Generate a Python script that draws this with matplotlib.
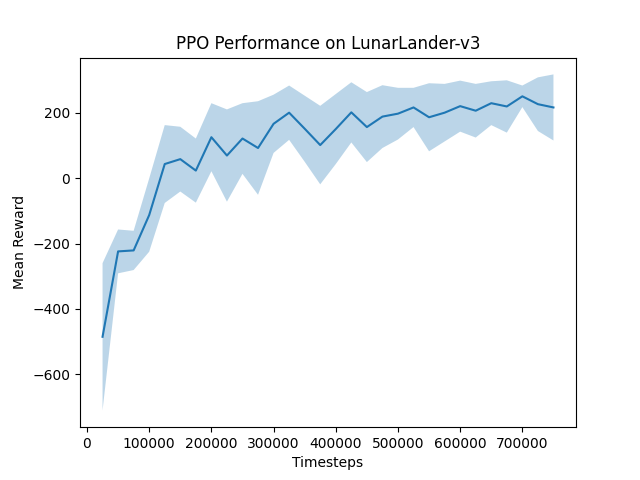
import numpy as np
import matplotlib
matplotlib.use("Agg")
import matplotlib.pyplot as plt

# evaluation checkpoints (every 25k steps)
timesteps = np.arange(25000, 750001, 25000)
mean_reward = [-485, -224, -221, -113, 43, 58, 23, 125, 69, 121,
               92, 166, 200, 151, 101, 150, 201, 156, 188, 197,
               216, 186, 200, 220, 206, 229, 219, 250, 226, 216]
std_reward = [225, 67, 60, 112, 119, 99, 98, 104, 141, 108,
              143, 89, 83, 101, 120, 107, 92, 107, 96, 79,
              60, 104, 88, 78, 82, 67, 80, 33, 82, 101]

mean_reward = np.array(mean_reward)
std_reward = np.array(std_reward)

fig, ax = plt.subplots(figsize=(6.4, 4.8), dpi=100)
ax.plot(timesteps, mean_reward)
ax.fill_between(timesteps, mean_reward - std_reward,
                mean_reward + std_reward, alpha=0.3)
ax.set_title("PPO Performance on LunarLander-v3")
ax.set_xlabel("Timesteps")
ax.set_ylabel("Mean Reward")
plt.savefig("out.png")
